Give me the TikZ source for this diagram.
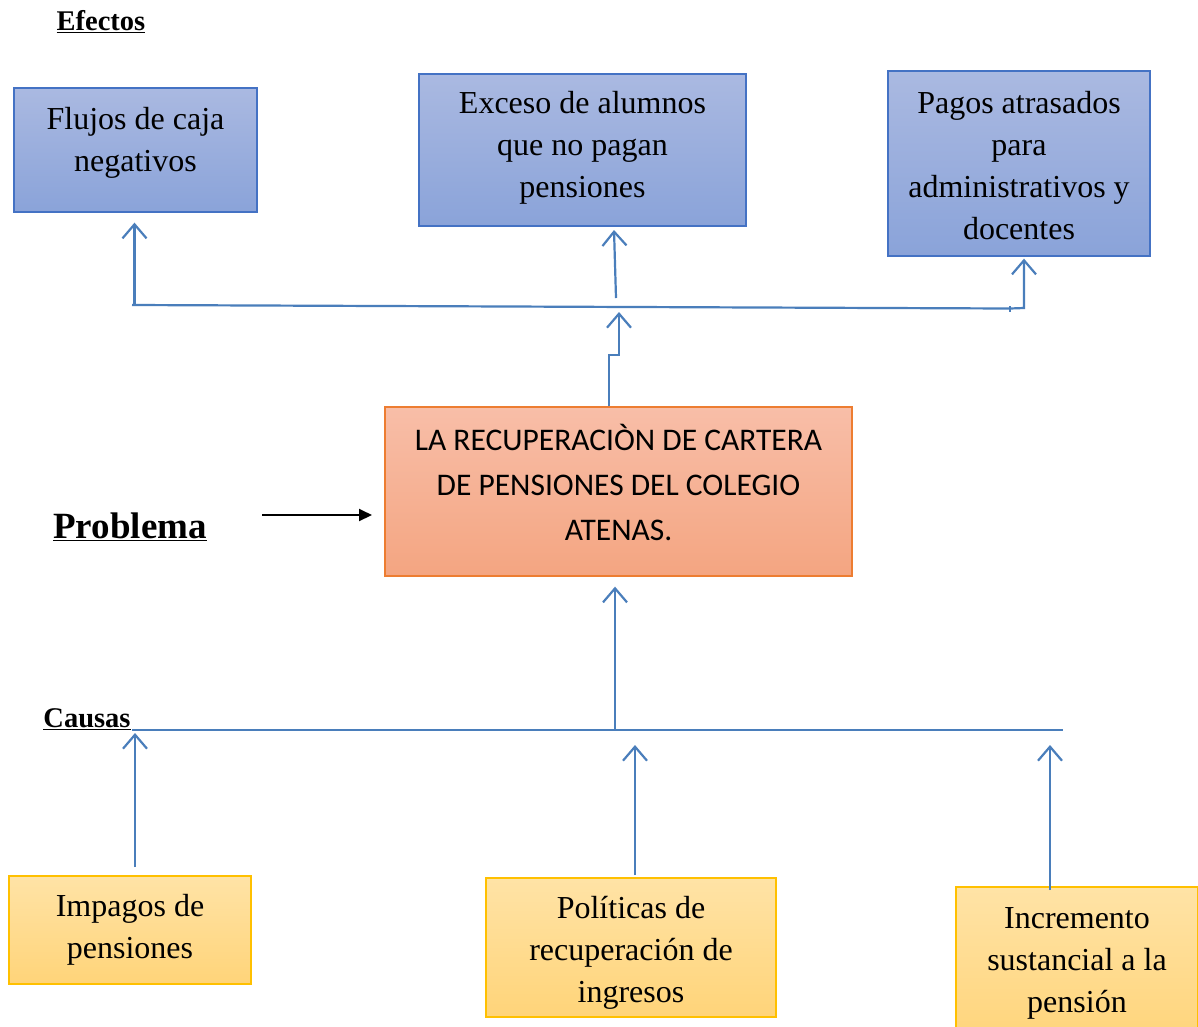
\documentclass[tikz,border=0pt]{standalone}
\usepackage{fontspec}
\setmainfont{Liberation Serif}
\newfontfamily\calibri{Carlito}
\usetikzlibrary{arrows.meta,shadings}
\definecolor{efftop}{HTML}{AAB9E1}
\definecolor{effbot}{HTML}{8AA3D9}
\definecolor{effborder}{HTML}{4472C4}
\definecolor{probtop}{HTML}{F8BEA8}
\definecolor{probbot}{HTML}{F4A581}
\definecolor{probborder}{HTML}{ED7D31}
\definecolor{causetop}{HTML}{FFE3A6}
\definecolor{causebot}{HTML}{FFD479}
\definecolor{causeborder}{HTML}{FFC000}
\definecolor{linkblue}{HTML}{4A7EBB}
\begin{document}
\begin{tikzpicture}[x=1pt,y=-1pt,
  boxbase/.style={line width=1.3pt, inner sep=0pt},
  effect/.style={boxbase, draw=effborder, top color=efftop, bottom color=effbot},
  cause/.style={boxbase, draw=causeborder, top color=causetop, bottom color=causebot},
  problem/.style={boxbase, draw=probborder, top color=probtop, bottom color=probbot},
  boxtext/.style={align=center, inner sep=0pt, font=\fontsize{32}{42}\selectfont},
  probtext/.style={align=center, inner sep=0pt, font=\calibri\fontsize{31.5}{45}\selectfont},
  heading/.style={font=\bfseries\fontsize{28.5}{32}\selectfont},
  link/.style={draw=linkblue, line width=2.2pt},
  conn/.style={link, -{Straight Barb[length=14pt,width=24pt]}},
]
\useasboundingbox (0,0) rectangle (1198,1026);
\fill[white] (0,0) rectangle (1198,1026);

% headings
\node[heading] (efectos) at (101,22) {\underline{Efectos}};
\node[heading] (causas) at (87,719) {\underline{Causas}};
\node[font=\bfseries\fontsize{37}{40}\selectfont] (problema) at (130,527) {\underline{Problema}};

% effect boxes
\node[effect, minimum width=243pt, minimum height=124pt] (flujos) at (135.5,150) {};
\node[boxtext] (flujostxt) at (135.5,143) {Flujos de caja\\negativos};
\node[effect, minimum width=327pt, minimum height=152pt] (exceso) at (582.5,150) {};
\node[boxtext] (excesotxt) at (582.5,148) {Exceso de alumnos\\que no pagan\\pensiones};
\node[effect, minimum width=262pt, minimum height=185pt] (pagos) at (1019,163.5) {};
\node[boxtext] (pagostxt) at (1019,165.5) {Pagos atrasados\\para\\administrativos y\\docentes};

% problem box
\node[problem, minimum width=467pt, minimum height=169pt] (prob) at (618.5,491.5) {};
\node[probtext] (probtxt) at (618.5,482) {LA RECUPERACIÒN DE CARTERA\\DE PENSIONES DEL COLEGIO\\ATENAS.};

% cause boxes
\node[cause, minimum width=242pt, minimum height=108pt] (impagos) at (130,930) {};
\node[boxtext] (impagostxt) at (130,930) {Impagos de\\pensiones};
\node[cause, minimum width=290pt, minimum height=139pt] (politicas) at (631,947.5) {};
\node[boxtext] (politicastxt) at (631,953) {Políticas de\\recuperación de\\ingresos};
\node[cause, minimum width=242pt, minimum height=160pt] (incremento) at (1077,967) {};
\node[boxtext] (incrementotxt) at (1077,963) {Incremento\\sustancial a la\\pensión};

% helper coordinates
\coordinate (tl) at (132,305);
\coordinate (tm) at (1010,308.5);
\coordinate (tr) at (1024,308);
\coordinate (c1) at (134.5,305);
\coordinate (c2) at (616,298);
\coordinate (c2e) at (614,230);
\coordinate (pa) at (609,407);
\coordinate (pb) at (609,355);
\coordinate (pc) at (619,355);
\coordinate (pd) at (619,312);
\coordinate (bl) at (132,730);
\coordinate (br) at (1063,730);
\coordinate (bm) at (615,730);
\coordinate (s1) at (135,867);
\coordinate (e1) at (135,733);
\coordinate (s2) at (635,875);
\coordinate (e2) at (635,745);
\coordinate (s3) at (1050,890);
\coordinate (e3) at (1050,745);
\coordinate (ps) at (262,515);
\coordinate (pe) at (372,515);

% effects connectors
\draw[link] (tl) -- (tm);
\draw[link] (1010,306) -- (1010,312);
\draw[conn, shorten >=2pt] (tm) -- (tr) -- (pagos.south -| tr);
\draw[conn, shorten >=10pt] (c1) -- (flujos.south -| c1);
\draw[conn] (c2) -- (c2e);
\draw[conn] (prob.north -| pa) -- (pb) -- (pc) -- (pd);

% causes connectors
\draw[link] (bl) -- (br);
\draw[conn, shorten >=10pt] (bm) -- (prob.south -| bm);
\draw[conn] (s1) -- (e1);
\draw[conn] (s2) -- (e2);
\draw[conn] (s3) -- (e3);

% problem pointer
\draw[line width=2pt, -{Triangle[length=13pt,width=12pt]}] (ps) -- (pe);
\end{tikzpicture}
\end{document}
